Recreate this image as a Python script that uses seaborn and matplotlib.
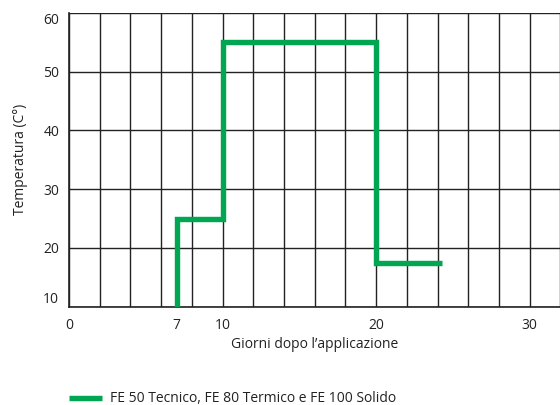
import matplotlib
matplotlib.use("Agg")
import matplotlib.pyplot as plt
import seaborn as sns
import pandas as pd

# corner points of the temperature profile
giorni = [7, 7, 10, 10, 20, 20, 24.3]
temperatura = [10, 25, 25, 55, 55, 17.5, 17.5]
serie = "FE 50 Tecnico, FE 80 Termico e FE 100 Solido"

x_ticks = [0, 7, 10, 20, 30]
y_ticks = [10, 20, 30, 40, 50, 60]
x_grid = list(range(0, 34, 2))

sns.set_style("white")
plt.rcParams["font.family"] = ["Open Sans", "DejaVu Sans"]

df = pd.DataFrame({"giorni": giorni, "temp": temperatura, "serie": serie})

fig = plt.figure(figsize=(5.6, 4.05), dpi=100)
ax = fig.add_axes([69 / 560, 1 - 306.7 / 405, 1 - 69 / 560, (306.7 - 12.7) / 405])

for gx in x_grid:
    ax.axvline(gx, color="#222222", lw=1.0, zorder=1)
for gy in y_ticks:
    ax.axhline(gy, color="#222222", lw=1.0, zorder=1)

sns.lineplot(data=df, x="giorni", y="temp", hue="serie", sort=False,
             estimator=None, palette=["#00a651"], linewidth=3.9,
             ax=ax, zorder=3)
for ln in ax.get_lines():
    if ln.get_color() == "#00a651":
        ln.set_solid_joinstyle("miter")
        ln.set_solid_capstyle("butt")

ax.set_xlim(0, 31.97)
ax.set_ylim(10, 60)
ax.set_xticks(x_ticks)
ax.set_yticks(y_ticks)
ax.tick_params(length=0, labelsize=10, colors="#222222")
ax.tick_params(axis="y", pad=7)
ax.tick_params(axis="x", pad=8)
for lab in ax.get_yticklabels():
    if lab.get_text() == "60":
        lab.set_va("top")
    elif lab.get_text() == "10":
        lab.set_va("bottom")

for side in ["top", "right"]:
    ax.spines[side].set_visible(False)
for side in ["left", "bottom"]:
    ax.spines[side].set_color("#222222")
    ax.spines[side].set_linewidth(1.2)

ax.set_xlabel("Giorni dopo l’applicazione", fontsize=10, color="#222222", labelpad=3)
ax.set_ylabel("Temperatura (C°)", fontsize=10, color="#222222", labelpad=11)

handles, labels = ax.get_legend_handles_labels()
ax.legend_.remove()
fig.legend(handles, labels, loc="center left", bbox_to_anchor=(56 / 560, 1 - 399 / 405),
           frameon=False, fontsize=10, handlelength=2.4, handletextpad=0.6,
           labelcolor="#222222")

fig.savefig("out.png", dpi=100)
plt.close(fig)
